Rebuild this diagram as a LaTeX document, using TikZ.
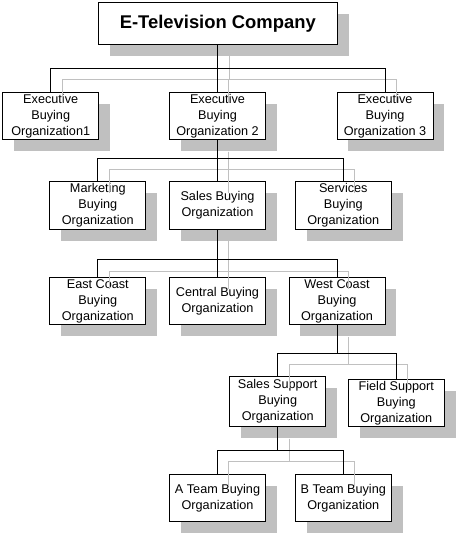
\documentclass[tikz,border=0pt]{standalone}
\usepackage{fontspec}
\setmainfont{Liberation Sans}
\usetikzlibrary{shadows}
\definecolor{shadegray}{RGB}{192,192,192}

\begin{document}
\begin{tikzpicture}[x=0.75pt, y=-0.75pt, line width=0.75pt,
  orgbox/.style={draw, fill=white, inner sep=0pt, align=center,
    minimum width=72pt, minimum height=35.3pt,
    font=\fontsize{9.5}{12}\selectfont,
    drop shadow={shadow xshift=8.6pt, shadow yshift=-8.6pt,
      fill=shadegray, opacity=1}},
  titlebox/.style={orgbox, minimum width=179.3pt, minimum height=31.5pt,
    font=\fontsize{13.8}{16}\selectfont\bfseries},
  shadowlink/.style={draw=shadegray,
    transform canvas={xshift=8.6pt, yshift=-8.6pt}}]

\useasboundingbox (0,0) rectangle (459,536);

%==================================================
% Boxes, top to bottom
%==================================================
\node[titlebox] (etv) at (217.8,23.3) {E-Television Company};

\node[orgbox] (exec1) at (50.7,116)  {Executive\\Buying\\Organization1};
\node[orgbox] (exec2) at (217.5,116) {Executive\\Buying\\Organization 2};
\node[orgbox] (exec3) at (385,116)   {Executive\\Buying\\Organization 3};

\node[orgbox] (mktg)  at (97.8,205.5)  {Marketing\\Buying\\Organization};
\node[orgbox] (sales) at (217.5,205.5) {Sales Buying\\Organization};
\node[orgbox] (serv)  at (343.3,205.5) {Services\\Buying\\Organization};

\node[orgbox] (east)    at (97.8,301.3)  {East Coast\\Buying\\Organization};
\node[orgbox] (central) at (217.5,301.3) {Central Buying\\Organization};
\node[orgbox] (west)    at (337,301.3)   {West Coast\\Buying\\Organization};

\node[orgbox, minimum height=37.5pt] (salessup) at (277.7,401.7) {Sales Support\\Buying\\Organization};
\node[orgbox] (fieldsup) at (396.3,403) {Field Support\\Buying\\Organization};

\node[orgbox] (ateam) at (217.5,498.2) {A Team Buying\\Organization};
\node[orgbox] (bteam) at (343.3,498.2) {B Team Buying\\Organization};

%==================================================
% Connectors: grey shadow first, black on top
%==================================================
\foreach \p/\d/\kids in {etv/23.4/{exec1,exec2,exec3},
                         exec2/18.4/{mktg,sales,serv},
                         sales/30/{east,central,west},
                         west/28/{salessup,fieldsup},
                         salessup/23.3/{ateam,bteam}}{
  \foreach \c in \kids{
    \draw[shadowlink] (\p.south) -- ++(0,\d) -| (\c.north);
  }
}

\foreach \p/\d/\kids in {etv/23.4/{exec1,exec2,exec3},
                         exec2/18.4/{mktg,sales,serv},
                         sales/30/{east,central,west},
                         west/28/{salessup,fieldsup},
                         salessup/23.3/{ateam,bteam}}{
  \foreach \c in \kids{
    \draw (\p.south) -- ++(0,\d) -| (\c.north);
  }
}

\end{tikzpicture}
\end{document}
